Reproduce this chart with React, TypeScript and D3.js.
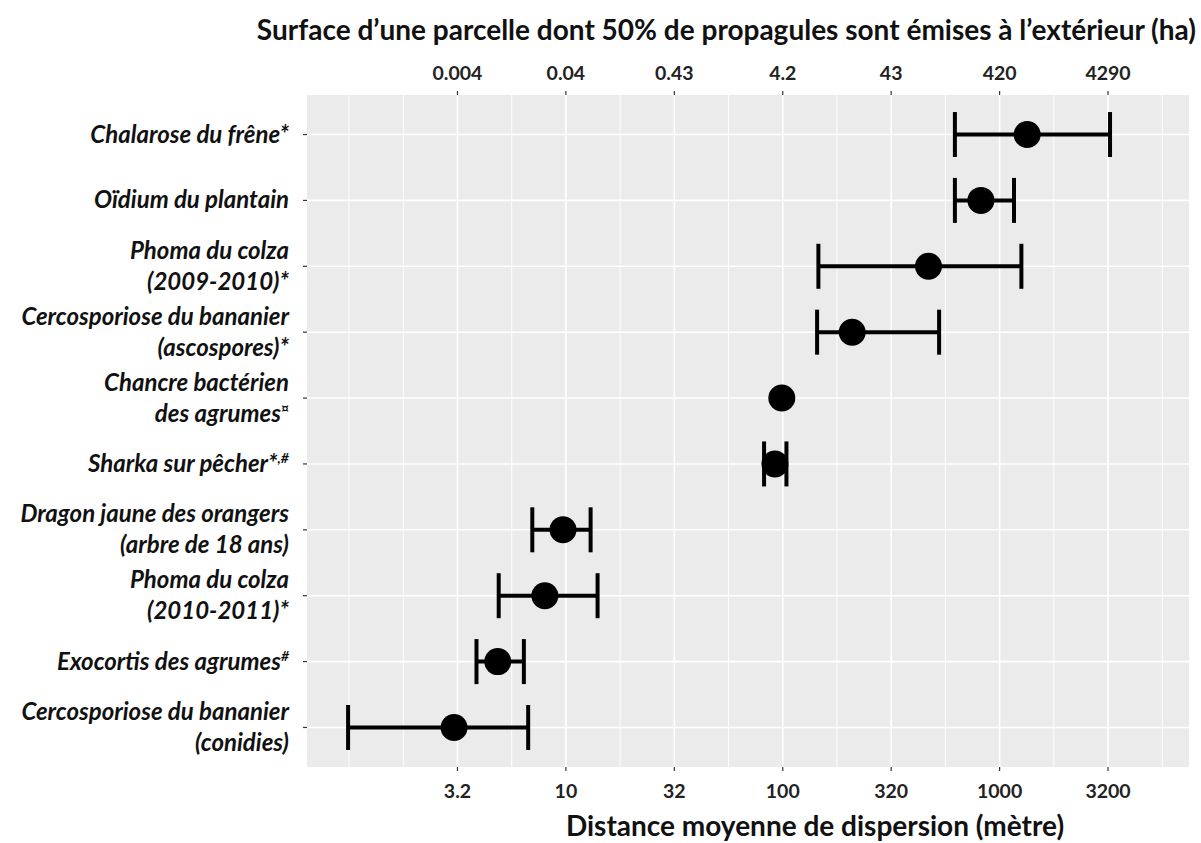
import React from 'react'
import * as d3 from 'd3'

// rows, top to bottom
const labelLines: string[][] = [
  ['Chalarose du frêne*'],
  ['Oïdium du plantain'],
  ['Phoma du colza', '(2009-2010)*'],
  ['Cercosporiose du bananier', '(ascospores)*'],
  ['Chancre bactérien', 'des agrumes'],
  ['Sharka sur pêcher*'],
  ['Dragon jaune des orangers', '(arbre de 18 ans)'],
  ['Phoma du colza', '(2010-2011)*'],
  ['Exocortis des agrumes'],
  ['Cercosporiose du bananier', '(conidies)'],
]
const labelSup = ['', '', '', '', '¤', ',#', '', '', '#', '']

// distance moyenne (m) and interval
const means = [1340, 820, 470, 209, 99, 92, 9.7, 8.0, 4.85, 3.05]
const lows = [622, 622, 146, 144, null, 82, 7.0, 4.9, 3.87, 0.99]
const highs = [3230, 1165, 1260, 526, null, 104, 13.0, 14.0, 6.4, 6.7]

const distanceTicks = [3.162, 10, 31.62, 100, 316.2, 1000, 3162]
const distanceLabels = ['3.2', '10', '32', '100', '320', '1000', '3200']
const surfaceLabels = ['0.004', '0.04', '0.43', '4.2', '43', '420', '4290']

const W = 1201
const H = 843
const left = 307
const right = 1189
const top = 95
const bottom = 767
const font = 'Lato, "Open Sans", sans-serif'

export default function App() {
  const rows = labelLines.map((_, i) => String(i))
  const x = d3.scaleLog().domain([0.64, 7470]).range([left, right])
  const y = d3.scalePoint<string>().domain(rows).range([top, bottom]).padding(0.6)

  // minor grid: log midpoints between majors, plus one step beyond
  const logs = distanceTicks.map(Math.log10)
  const step = logs[1] - logs[0]
  const ext = [logs[0] - step, ...logs, logs[logs.length - 1] + step]
  const minor: number[] = []
  for (let i = 0; i < ext.length - 1; i++) {
    minor.push(ext[i])
    minor.push((ext[i] + ext[i + 1]) / 2)
  }
  const minorVals = minor
    .map((l) => Math.pow(10, l))
    .filter((v) => x(v) >= left && x(v) <= right && !distanceTicks.some((t) => Math.abs(Math.log10(t) - Math.log10(v)) < 0.01))

  const capH = 22.5

  return (
    <svg width={W} height={H} style={{ position: 'absolute', left: 0, top: 0, background: '#fff' }}>
      <rect x={left} y={top} width={right - left} height={bottom - top} fill="#EBEBEB" />
      {minorVals.map((v, i) => (
        <line key={'mn' + i} x1={x(v)} x2={x(v)} y1={top} y2={bottom} stroke="#fff" strokeWidth={0.9} />
      ))}
      {distanceTicks.map((v, i) => (
        <line key={'mj' + i} x1={x(v)} x2={x(v)} y1={top} y2={bottom} stroke="#fff" strokeWidth={1.6} />
      ))}
      {rows.map((r) => (
        <line key={'hy' + r} x1={left} x2={right} y1={y(r)} y2={y(r)} stroke="#fff" strokeWidth={1.6} />
      ))}

      {/* error bars */}
      {rows.map((r, i) => {
        const lo = lows[i]
        const hi = highs[i]
        if (lo == null || hi == null) return null
        const cy = y(r)!
        return (
          <g key={'eb' + r} stroke="#000" strokeWidth={4}>
            <line x1={x(lo)} x2={x(hi)} y1={cy} y2={cy} />
            <line x1={x(lo)} x2={x(lo)} y1={cy - capH} y2={cy + capH} />
            <line x1={x(hi)} x2={x(hi)} y1={cy - capH} y2={cy + capH} />
          </g>
        )
      })}
      {rows.map((r, i) => (
        <circle key={'pt' + r} cx={x(means[i])} cy={y(r)} r={13.5} fill="#000" />
      ))}

      {/* y axis */}
      {rows.map((r, i) => {
        const cy = y(r)!
        const lines = labelLines[i]
        const lh = 31
        const y0 = cy - ((lines.length - 1) * lh) / 2 + 8
        return (
          <g key={'yl' + r}>
            <line x1={left - 4} x2={left} y1={cy} y2={cy} stroke="#333" strokeWidth={1.2} />
            <text
              textAnchor="end"
              fontFamily={font}
              fontWeight="bold"
              fontStyle="italic"
              fontSize={24}
              fill="#111"
            >
              {lines.map((t, k) => (
                <tspan key={k} x={289} y={y0 + k * lh}>
                  {t}
                  {k === lines.length - 1 && labelSup[i] ? (
                    <tspan fontSize={14} dy={-9}>
                      {labelSup[i]}
                    </tspan>
                  ) : null}
                </tspan>
              ))}
            </text>
          </g>
        )
      })}

      {/* bottom axis */}
      {distanceTicks.map((v, i) => (
        <g key={'bx' + i} transform={`translate(${x(v)},0)`}>
          <line y1={bottom} y2={bottom + 4} stroke="#333" strokeWidth={1.2} />
          <text y={bottom + 31} textAnchor="middle" fontFamily={font} fontWeight="bold" fontSize={19.5} fill="#222">
            {distanceLabels[i]}
          </text>
        </g>
      ))}
      <text x={815} y={836} textAnchor="middle" fontFamily={font} fontWeight="bold" fontSize={28} fill="#111">
        Distance moyenne de dispersion (mètre)
      </text>

      {/* top axis */}
      {distanceTicks.map((v, i) => (
        <g key={'tx' + i} transform={`translate(${x(v)},0)`}>
          <line y1={top - 4} y2={top} stroke="#333" strokeWidth={1.2} />
          <text y={top - 15} textAnchor="middle" fontFamily={font} fontWeight="bold" fontSize={19.5} fill="#222">
            {surfaceLabels[i]}
          </text>
        </g>
      ))}
      <text x={1196} y={40} textAnchor="end" fontFamily={font} fontWeight="bold" fontSize={28} fill="#111">
        Surface d’une parcelle dont 50% de propagules sont émises à l’extérieur (ha)
      </text>
    </svg>
  )
}
